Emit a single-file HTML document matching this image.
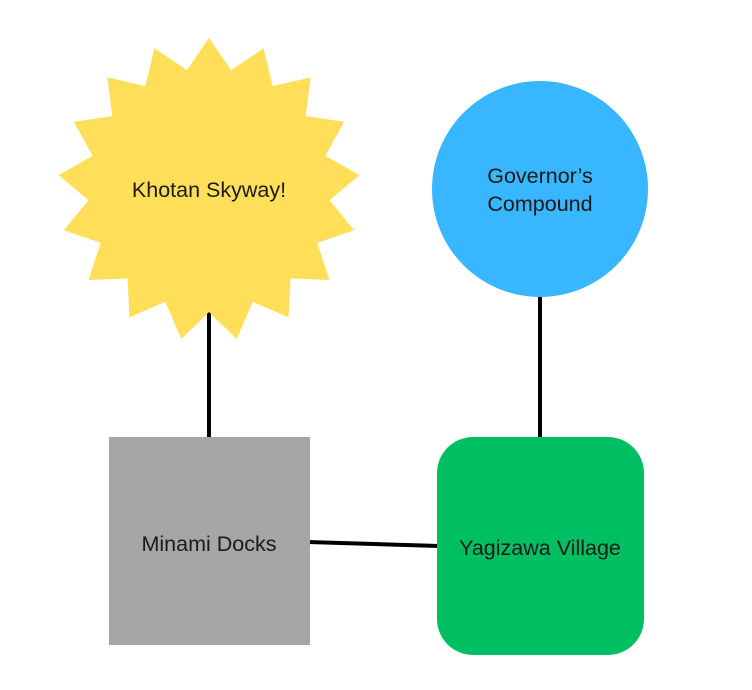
<!DOCTYPE html>
<html><head><meta charset="utf-8"><style>
html,body{margin:0;padding:0;background:#fff;}
svg{display:block;}
text{font-family:"Liberation Sans",sans-serif;font-size:21.5px;fill:#1a1a1a;text-anchor:middle;}
</style></head><body>
<svg width="752" height="690" viewBox="0 0 752 690" xmlns="http://www.w3.org/2000/svg">
<line x1="209" y1="300" x2="209" y2="440" stroke="#000" stroke-width="4"/>
<line x1="540" y1="290" x2="540" y2="440" stroke="#000" stroke-width="4"/>
<line x1="308" y1="542" x2="439" y2="546" stroke="#000" stroke-width="4"/>
<polygon fill="#FFDE59" points="209,38 231.2,70.1 263.5,48.2 272.7,86.1 310.7,77.4 305.6,116.1 344.2,121.7 325.4,155.9 359.4,175.1 329.5,200.2 354.2,230.3 317.3,242.9 329.5,280 290.5,278.4 288.5,317.4 252.7,301.8 236.7,339 209,312 181.3,339 165.3,301.8 129.5,317.4 127.5,278.4 88.5,280 100.7,242.9 63.8,230.3 88.5,200.2 58.6,175.1 92.6,155.9 73.8,121.7 112.4,116.1 107.3,77.4 145.3,86.1 154.5,48.2 186.8,70.1"/>
<circle cx="540" cy="189" r="108" fill="#38B6FF"/>
<rect x="109" y="437" width="201" height="208" fill="#A6A6A6"/>
<rect x="437" y="437" width="207" height="218" rx="36" ry="36" fill="#00BF63"/>
<text x="209" y="197">Khotan Skyway!</text>
<text x="540" y="183">Governor’s</text>
<text x="540" y="211">Compound</text>
<text x="209" y="551">Minami Docks</text>
<text x="540" y="555">Yagizawa Village</text>
</svg>
</body></html>
